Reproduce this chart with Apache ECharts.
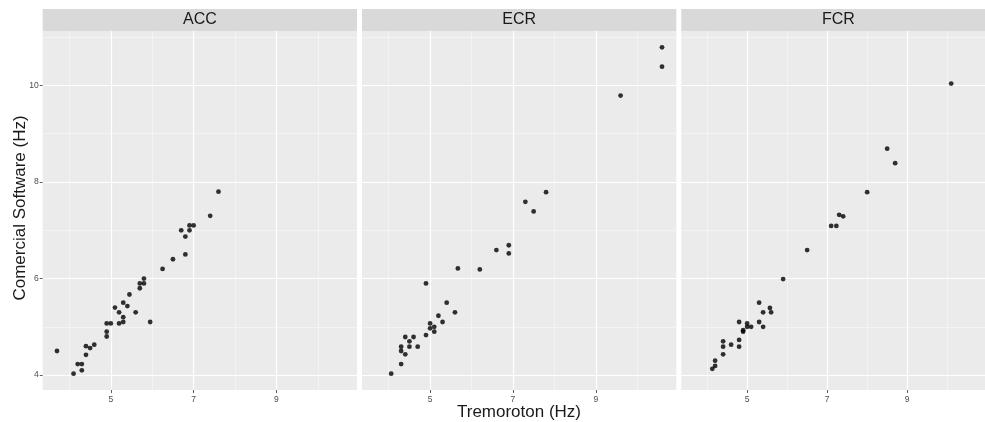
<!DOCTYPE html>
<html>
<head>
<meta charset="utf-8">
<script src="https://cdn.jsdelivr.net/npm/echarts@6/dist/echarts.min.js"></script>
<style>
html,body{margin:0;padding:0;background:#fff;overflow:hidden;}
#chart{width:985px;height:422px;}
</style>
</head>
<body>
<div id="chart"></div>
<script>
// ---- data ----
const panels = ['ACC', 'ECR', 'FCR'];
const accX = [3.7,4.1,4.2,4.3,4.3,4.4,4.4,4.5,4.6,4.9,4.9,4.9,5.0,5.1,5.2,5.2,5.3,5.3,5.3,5.4,5.45,5.6,5.7,5.7,5.8,5.8,5.95,6.25,6.5,6.7,6.8,6.8,6.9,6.9,7.0,7.4,7.6];
const accY = [4.5,4.03,4.23,4.23,4.1,4.6,4.42,4.56,4.63,4.8,4.9,5.07,5.07,5.4,5.3,5.07,5.5,5.2,5.1,5.43,5.67,5.3,5.8,5.9,5.9,6.0,5.1,6.2,6.4,7.0,6.5,6.87,7.0,7.1,7.1,7.3,7.8];
const ecrX = [4.06,4.3,4.3,4.3,4.4,4.4,4.5,4.5,4.6,4.7,4.9,4.9,5.0,5.0,5.1,5.1,5.2,5.3,5.4,5.6,5.67,6.2,6.6,6.9,6.9,7.3,7.5,7.8,9.6,10.6,10.6];
const ecrY = [4.03,4.23,4.5,4.59,4.43,4.79,4.7,4.59,4.79,4.59,4.83,5.9,5.07,4.97,5.0,4.9,5.23,5.1,5.5,5.3,6.21,6.19,6.59,6.69,6.52,7.59,7.39,7.79,9.79,10.39,10.79];
const fcrX = [4.13,4.2,4.2,4.4,4.4,4.4,4.6,4.8,4.8,4.8,4.9,4.9,5.0,5.0,5.1,5.3,5.3,5.4,5.4,5.57,5.6,5.9,6.5,7.1,7.23,7.3,7.4,8.0,8.5,8.7,10.1];
const fcrY = [4.13,4.19,4.3,4.43,4.59,4.7,4.63,4.59,4.73,5.1,4.9,4.93,5.0,5.07,5.0,5.5,5.1,5.3,5.0,5.39,5.3,5.99,6.59,7.09,7.09,7.32,7.29,7.79,8.69,8.39,10.04];
const xMajor = [5, 7, 9];
const xMinor = [4, 6, 8, 10];
const yMajor = [4, 6, 8, 10];
const yMinor = [5, 7, 9, 11];
const xTitle = 'Tremoroton (Hz)';
const yTitle = 'Comercial Software (Hz)';

const seriesX = [accX, ecrX, fcrX];
const seriesY = [accY, ecrY, fcrY];

// ggplot-like 5% expansion of the shared data range
function expand(arrs) {
  const all = [].concat(...arrs);
  const lo = Math.min(...all), hi = Math.max(...all);
  const pad = (hi - lo) * 0.05;
  return [lo - pad, hi + pad];
}
const xr = expand(seriesX);
const yr = expand(seriesY);

// layout
const gTop = 31, gHeight = 359, stripH = 22;
const gLefts = [42.7, 362, 681.3];
const gWidth = 314.3;
const FONT = 'Liberation Sans, Arial, sans-serif';

const grids = [], xAxes = [], yAxes = [], seriesList = [], graphics = [];
panels.forEach((p, i) => {
  grids.push({left: gLefts[i], top: gTop, width: gWidth, height: gHeight, show: true,
    backgroundColor: '#ebebeb', borderWidth: 0, containLabel: false});
  // major x axis
  xAxes.push({type: 'value', gridIndex: i, min: xr[0], max: xr[1],
    axisLine: {show: false},
    axisTick: {show: true, customValues: xMajor, length: 3, lineStyle: {color: '#333', width: 0.8}},
    axisLabel: {show: true, customValues: xMajor, color: '#4d4d4d', fontSize: 8.5, margin: 5, fontFamily: FONT},
    splitLine: {show: true, lineStyle: {color: '#ffffff', width: 1.2}}
  });
  // minor x axis
  xAxes.push({type: 'value', gridIndex: i, min: xr[0], max: xr[1],
    axisLine: {show: false},
    axisTick: {show: false, customValues: xMinor},
    axisLabel: {show: false},
    splitLine: {show: true, lineStyle: {color: 'rgba(255,255,255,0.7)', width: 0.6}}
  });
  // major y axis
  yAxes.push({type: 'value', gridIndex: i, min: yr[0], max: yr[1],
    axisLine: {show: false},
    axisTick: {show: i === 0, customValues: yMajor, length: 3, lineStyle: {color: '#333', width: 0.8}},
    axisLabel: {show: i === 0, customValues: yMajor, color: '#4d4d4d', fontSize: 8.5, margin: 4, fontFamily: FONT},
    splitLine: {show: true, lineStyle: {color: '#ffffff', width: 1.2}}
  });
  // minor y axis
  yAxes.push({type: 'value', gridIndex: i, min: yr[0], max: yr[1],
    axisLine: {show: false},
    axisTick: {show: false, customValues: yMinor},
    axisLabel: {show: false},
    splitLine: {show: true, lineStyle: {color: 'rgba(255,255,255,0.7)', width: 0.6}}
  });
  seriesList.push({type: 'scatter', name: p, xAxisIndex: 2 * i, yAxisIndex: 2 * i,
    symbolSize: 4.8, itemStyle: {color: '#000'}, silent: true, z: 5,
    data: seriesX[i].map((x, k) => [x, seriesY[i][k]])});
  // facet strip
  graphics.push({type: 'rect', left: gLefts[i], top: gTop - stripH, z: 0,
    shape: {width: gWidth, height: stripH}, style: {fill: '#d9d9d9'}});
  graphics.push({type: 'text', x: gLefts[i] + gWidth / 2, y: gTop - stripH / 2, z: 1,
    style: {text: p, fill: '#1a1a1a', fontSize: 16, align: 'center', verticalAlign: 'middle',
      fontFamily: FONT}});
});
// axis titles
graphics.push({type: 'text', x: 519, y: 412, z: 1,
  style: {text: xTitle, fill: '#1a1a1a', fontSize: 17, align: 'center', verticalAlign: 'middle', fontFamily: FONT}});
graphics.push({type: 'text', x: 20, y: 208, rotation: Math.PI / 2, z: 1,
  style: {text: yTitle, fill: '#1a1a1a', fontSize: 17, align: 'center', verticalAlign: 'middle', fontFamily: FONT}});

const chart = echarts.init(document.getElementById('chart'), null, {renderer: 'canvas'});
chart.setOption({
  animation: false,
  backgroundColor: '#ffffff',
  grid: grids,
  xAxis: xAxes,
  yAxis: yAxes,
  series: seriesList,
  graphic: graphics
});
</script>
</body>
</html>
